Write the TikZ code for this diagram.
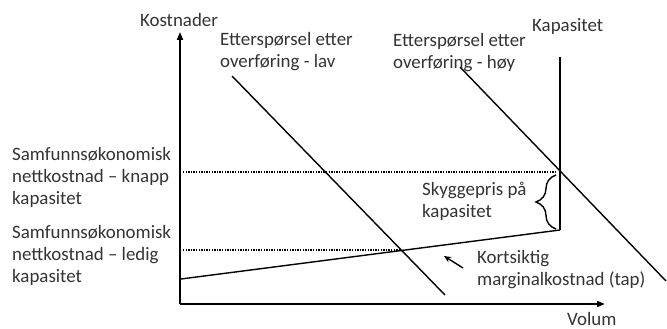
\documentclass[tikz,border=0pt]{standalone}
\usepackage{fontspec}
\setmainfont{Carlito}
\usetikzlibrary{arrows.meta,decorations.pathreplacing}
\begin{document}
\begin{tikzpicture}[x=1pt,y=-1pt,
  lbl/.style={font=\fontsize{18.9}{22}\selectfont, text=black!80, inner sep=0pt, align=left, anchor=base west},
  axis/.style={line width=1.8pt, -{Triangle[length=8pt,width=6pt]}},
  curve/.style={line width=1.4pt},
  guide/.style={line width=1.2pt, dash pattern=on 1.3pt off 1.3pt},
  brc/.style={line width=1.4pt, decorate, decoration={brace, amplitude=20pt}},
  pointer/.style={line width=1.4pt, -{Stealth[length=7pt,width=6pt]}}]
\useasboundingbox (0,0) rectangle (667,329);
% coordinates
\coordinate (O) at (180,304);
\coordinate (Ytop) at (180,32);
\coordinate (Xend) at (605,304);
\coordinate (lowA) at (232,76);
\coordinate (lowB) at (445,295);
\coordinate (highA) at (460,67);
\coordinate (highB) at (666,281);
\coordinate (capTop) at (560,57);
\coordinate (capBot) at (560,230);
\coordinate (mcA) at (181,279);
\coordinate (dU1) at (183,172);
\coordinate (dU2) at (556,172);
\coordinate (dL1) at (183,250);
\coordinate (dL2) at (401,250);
\coordinate (brB) at (556,229);
\coordinate (brT) at (556,175);
\coordinate (arT) at (463,268);
\coordinate (arH) at (444,256);
% axes
\draw[axis] (O) -- (Ytop);
\draw[axis] (O) -- (Xend);
% curves
\draw[curve] (lowA) -- (lowB);
\draw[curve] (highA) -- (highB);
\draw[curve] (capTop) -- (capBot);
\draw[curve] (mcA) -- (capBot);
\draw[guide] (dU1) -- (dU2);
\draw[guide] (dL1) -- (dL2);
\draw[brc] (brB) -- (brT);
\draw[pointer] (arT) -- (arH);
% labels (anchor = baseline of last line)
\node[lbl, anchor=base] (kost) at (179,27) {Kostnader};
\node[lbl] (lav) at (220,68) {Etterspørsel etter\\overføring - lav};
\node[lbl] (hoy) at (393,69) {Etterspørsel etter\\overføring - høy};
\node[lbl] (kap) at (532,32) {Kapasitet};
\node[lbl] (knapp) at (12,204) {Samfunnsøkonomisk\\nettkostnad – knapp\\kapasitet};
\node[lbl] (ledig) at (12,282) {Samfunnsøkonomisk\\nettkostnad – ledig\\kapasitet};
\node[lbl] (skygge) at (422,217) {Skyggepris på\\kapasitet};
\node[lbl] (kort) at (477,285) {Kortsiktig\\marginalkostnad (tap)};
\node[lbl] (volum) at (567,325) {Volum};
\end{tikzpicture}
\end{document}
